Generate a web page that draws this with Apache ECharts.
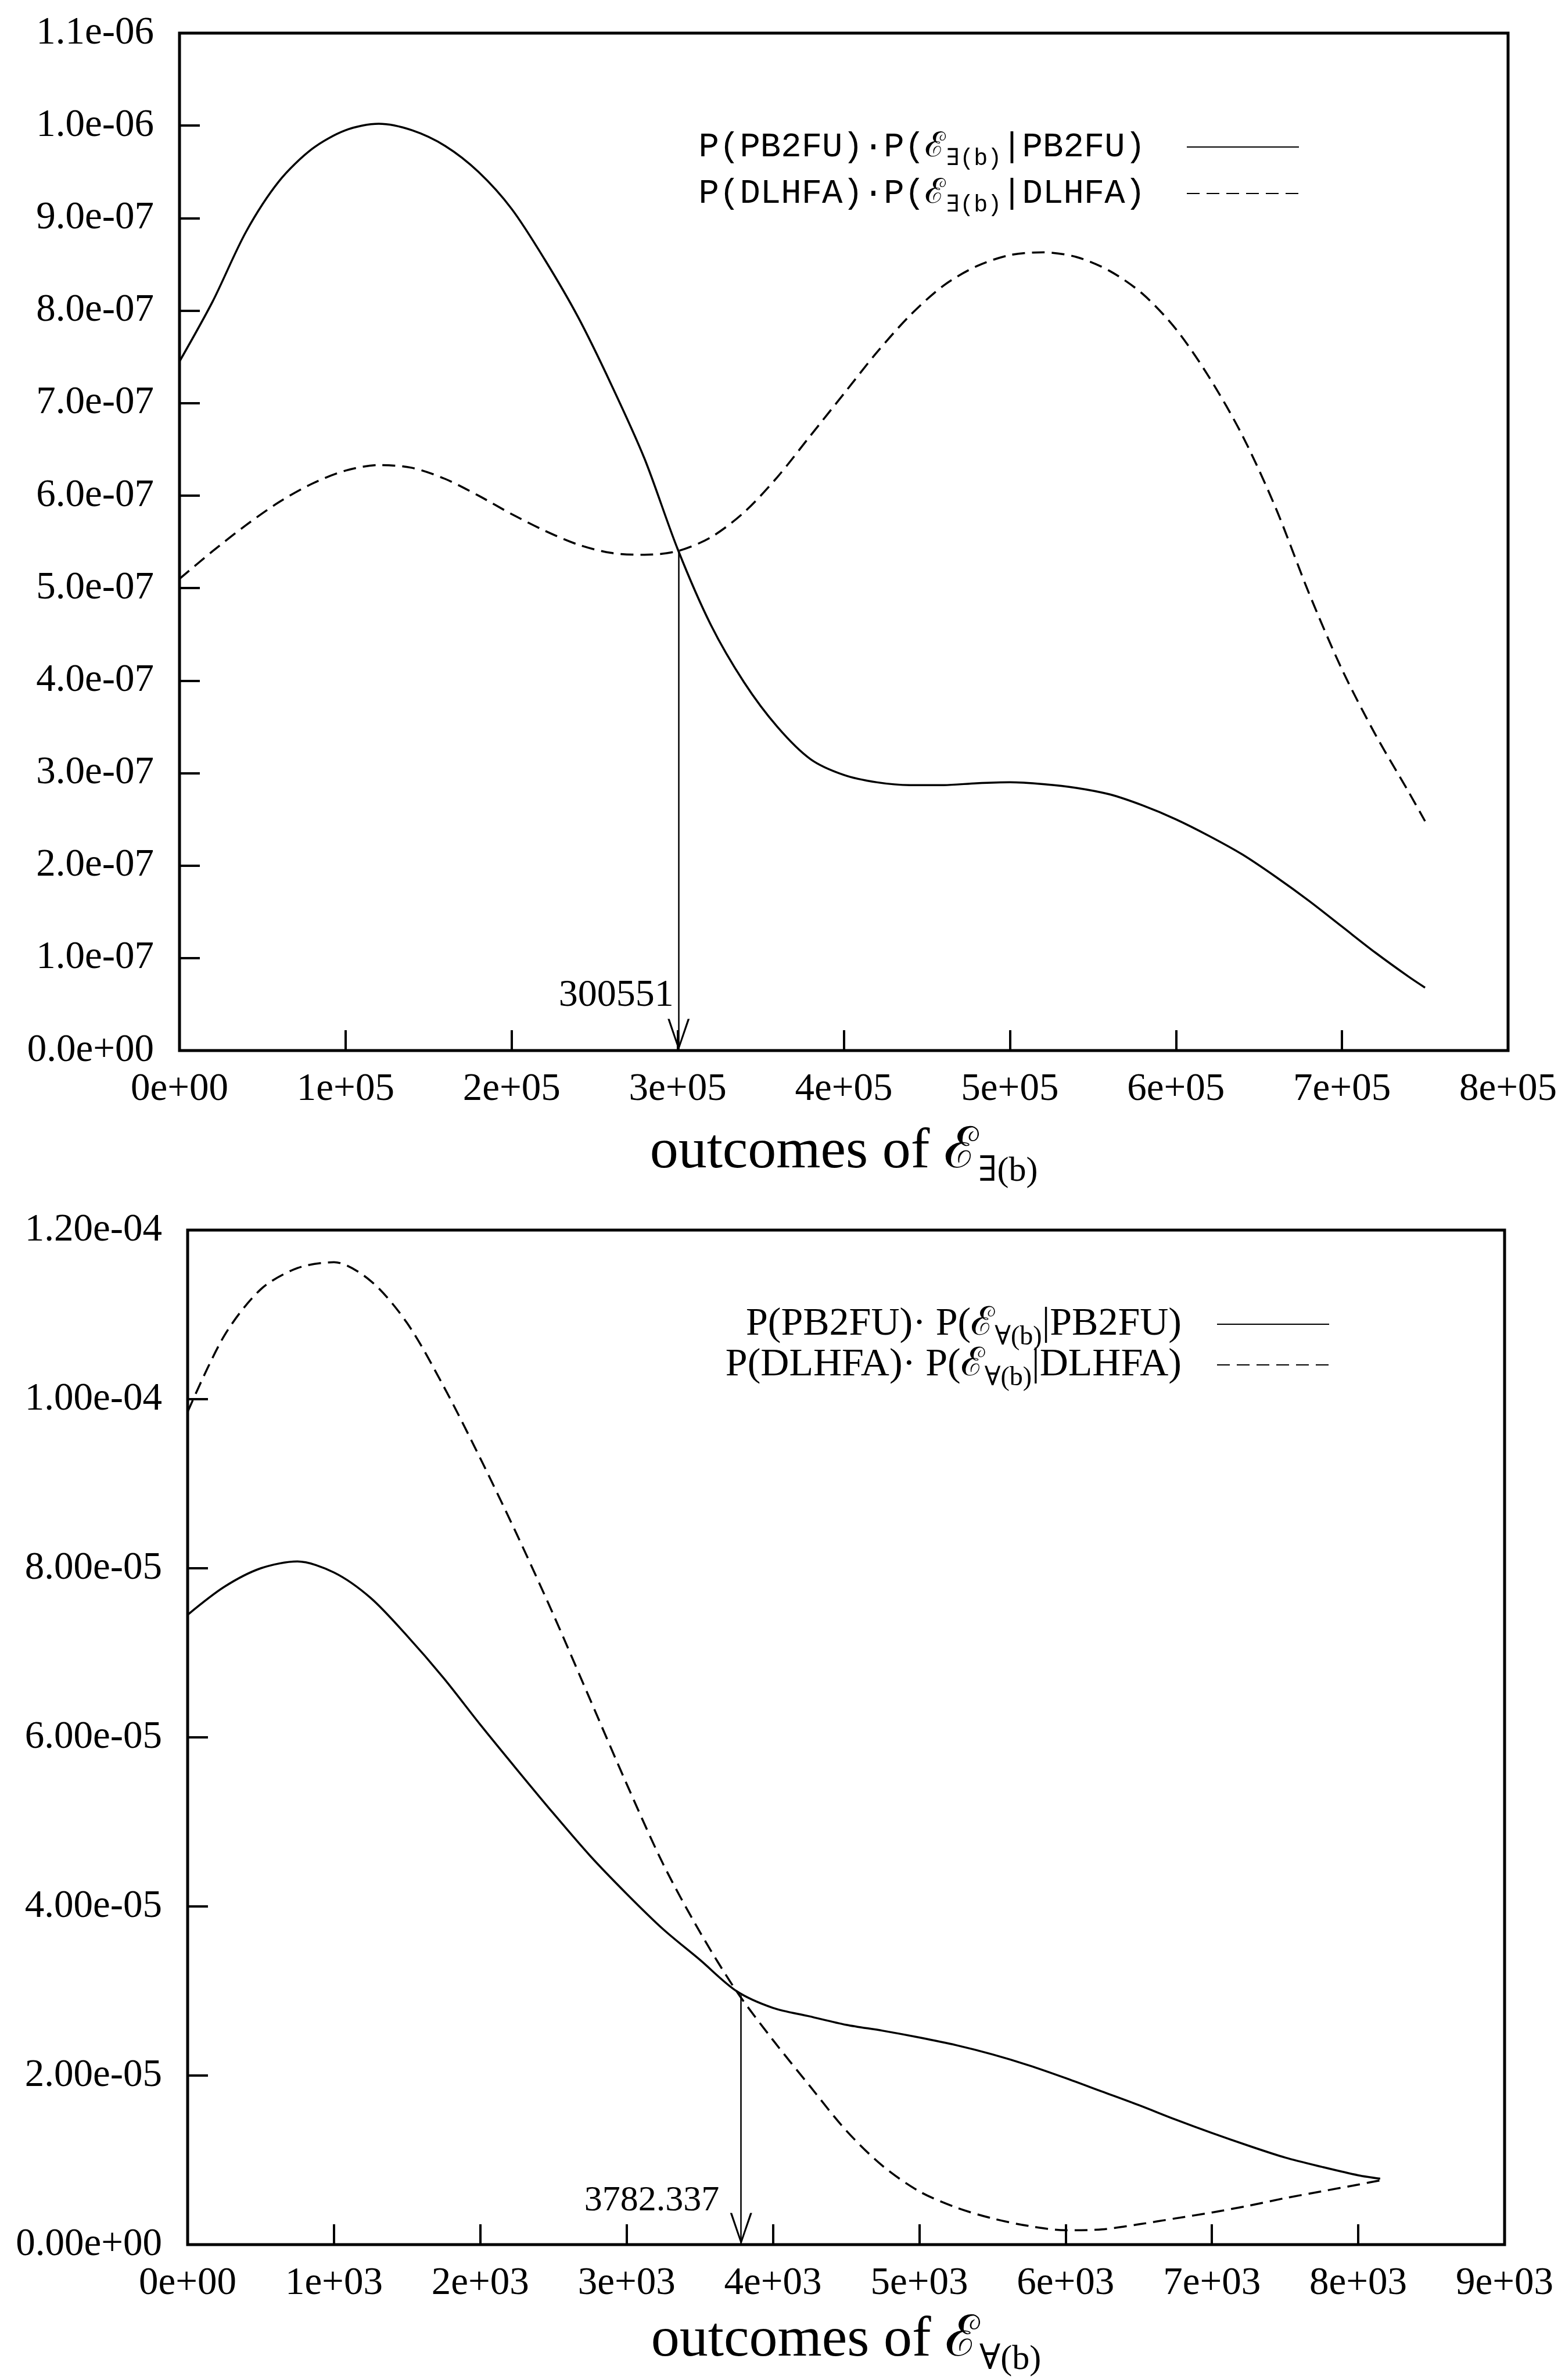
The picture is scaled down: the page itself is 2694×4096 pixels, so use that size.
<!DOCTYPE html>
<html>
<head>
<meta charset="utf-8">
<script src="https://cdn.jsdelivr.net/npm/echarts@6/dist/echarts.min.js"></script>
<style>
html,body{margin:0;padding:0;background:#fff;}
#c{width:2694px;height:4096px;}
</style>
</head>
<body>
<div id="c"></div>
<script>
// ---------------- data: upper chart (outcomes of E_exists(b)) ----------------
const topX = [0,20000,40000,60000,80000,100000,120000,140000,160000,180000,200000,220000,240000,260000,280000,300000,320000,340000,360000,380000,400000,420000,440000,460000,480000,500000,520000,540000,560000,580000,600000,620000,640000,660000,680000,700000,720000,740000,750000];
const topPB2FU = [7.45e-7,8.1e-7,8.85e-7,9.4e-7,9.75e-7,9.95e-7,10.02e-7,9.95e-7,9.78e-7,9.5e-7,9.1e-7,8.55e-7,7.93e-7,7.2e-7,6.4e-7,5.42e-7,4.6e-7,3.98e-7,3.5e-7,3.15e-7,2.98e-7,2.9e-7,2.87e-7,2.87e-7,2.89e-7,2.9e-7,2.88e-7,2.84e-7,2.77e-7,2.65e-7,2.5e-7,2.32e-7,2.12e-7,1.88e-7,1.62e-7,1.34e-7,1.06e-7,0.8e-7,0.68e-7];
const topDLHFA = [5.1e-7,5.4e-7,5.68e-7,5.93e-7,6.13e-7,6.27e-7,6.33e-7,6.3e-7,6.18e-7,6.0e-7,5.8e-7,5.62e-7,5.47e-7,5.38e-7,5.36e-7,5.4e-7,5.55e-7,5.82e-7,6.2e-7,6.65e-7,7.1e-7,7.55e-7,7.95e-7,8.27e-7,8.48e-7,8.6e-7,8.63e-7,8.58e-7,8.43e-7,8.18e-7,7.8e-7,7.28e-7,6.65e-7,5.87e-7,4.95e-7,4.12e-7,3.42e-7,2.8e-7,2.48e-7];
const topXRange = [0, 800000, 100000];
const topYRange = [0, 1.1e-6, 1e-7];
const topCross = [300551, 5.4e-7];
const topNames = ['P(PB2FU)·P(ℰ∃(b)|PB2FU)', 'P(DLHFA)·P(ℰ∃(b)|DLHFA)'];
const topAxisName = ['outcomes of ℰ', '∃(b)'];

// ---------------- data: lower chart (outcomes of E_forall(b)) ----------------
const botX = [0,250,500,750,1000,1250,1500,1750,2000,2250,2500,2750,3000,3250,3500,3750,4000,4250,4500,4750,5000,5250,5500,5750,6000,6250,6500,6750,7000,7250,7500,7750,8000,8150];
const botPB2FU = [7.45e-5,7.78e-5,8.0e-5,8.08e-5,7.95e-5,7.65e-5,7.2e-5,6.7e-5,6.15e-5,5.62e-5,5.1e-5,4.6e-5,4.15e-5,3.73e-5,3.37e-5,3.0e-5,2.8e-5,2.7e-5,2.6e-5,2.53e-5,2.45e-5,2.36e-5,2.25e-5,2.12e-5,1.97e-5,1.81e-5,1.65e-5,1.48e-5,1.32e-5,1.17e-5,1.03e-5,0.92e-5,0.82e-5,0.78e-5];
const botDLHFA = [9.85e-5,10.75e-5,11.3e-5,11.55e-5,11.62e-5,11.4e-5,10.9e-5,10.15e-5,9.3e-5,8.4e-5,7.45e-5,6.45e-5,5.45e-5,4.5e-5,3.7e-5,3.0e-5,2.42e-5,1.88e-5,1.35e-5,0.93e-5,0.63e-5,0.44e-5,0.31e-5,0.22e-5,0.17e-5,0.18e-5,0.24e-5,0.31e-5,0.38e-5,0.46e-5,0.55e-5,0.63e-5,0.71e-5,0.76e-5];
const botXRange = [0, 9000, 1000];
const botYRange = [0, 1.2e-4, 2e-5];
const botCross = [3782.337, 2.95e-5];
const botNames = ['P(PB2FU)· P(ℰ∀(b)|PB2FU)', 'P(DLHFA)· P(ℰ∀(b)|DLHFA)'];
const botAxisName = ['outcomes of ℰ', '∀(b)'];

// ---------------- styling ----------------
const SERIF = "'Liberation Serif','DejaVu Serif',serif";
const MONO = "'Liberation Mono','DejaVu Sans Mono',monospace";
const BLACK = '#000';

function sci(v, d) {
  return Number(v).toExponential(d).replace(/e([+-])(\d)$/, 'e$10$2');
}
function pairs(xs, ys) { return xs.map((x, i) => [x, ys[i]]); }
function legendRich(name) {
  const m = name.match(/^(.*ℰ)(.\(b\))(\|.*)$/);
  return '{m|' + m[1] + '}{s|' + m[2] + '}{e|' + m[3] + '}';
}
const ARROW = 'path://M19,0 L38,55 L34.5,55 L19,9 L3.5,55 L0,55 Z';

function xAxisCfg(grid, range, nameParts, gap) {
  return {
    gridIndex: grid, type: 'value', min: range[0], max: range[1], interval: range[2],
    axisLine: { show: false },
    axisTick: { inside: true, length: 35, lineStyle: { width: 4, color: BLACK } },
    splitLine: { show: false },
    axisLabel: { formatter: v => sci(v, 0), margin: 34, fontSize: 67, fontFamily: SERIF, color: BLACK },
    name: '{a|' + nameParts[0] + '}{b|' + nameParts[1] + '}',
    nameLocation: 'middle', nameGap: gap,
    nameTextStyle: {
      rich: {
        a: { fontSize: 98, fontFamily: SERIF, color: BLACK, lineHeight: 110 },
        b: { fontSize: 60, fontFamily: SERIF, color: BLACK, lineHeight: 40, padding: [66, 0, 0, 0] }
      }
    }
  };
}
function yAxisCfg(grid, range, digits) {
  return {
    gridIndex: grid, type: 'value', min: range[0], max: range[1], interval: range[2],
    axisLine: { show: false },
    axisTick: { inside: true, length: 35, lineStyle: { width: 4, color: BLACK } },
    splitLine: { show: false },
    axisLabel: { formatter: v => sci(v, digits), margin: 44, fontSize: 67, fontFamily: SERIF, color: BLACK }
  };
}
function lineSeries(name, grid, xs, ys, dashed, extra) {
  return Object.assign({
    type: 'line', name: name, xAxisIndex: grid, yAxisIndex: grid,
    data: pairs(xs, ys), smooth: 0.3, symbol: 'none', showSymbol: false,
    lineStyle: { color: BLACK, width: 3.5, type: dashed ? [22, 12] : 'solid' },
    itemStyle: { color: BLACK },
    emphasis: { disabled: true }, silent: true, z: 3
  }, extra || {});
}
function crossMarks(cross, labelFont, dist, offY) {
  return {
    markLine: {
      silent: true, animation: false,
      symbol: ['none', ARROW], symbolSize: 55,
      lineStyle: { color: BLACK, width: 2.5, type: 'solid' },
      label: { show: false }, emphasis: { disabled: true },
      data: [[
        { coord: [cross[0], cross[1]], symbol: 'none' },
        { coord: [cross[0], 0], symbol: ARROW, symbolSize: [38, 55], symbolOffset: [0, 27] }
      ]]
    },
    markPoint: {
      silent: true, animation: false,
      symbol: 'circle', symbolSize: 1, itemStyle: { color: 'rgba(0,0,0,0)' },
      label: {
        show: true, position: 'left', distance: dist, offset: [0, offY],
        formatter: () => String(cross[0]), fontSize: labelFont, fontFamily: SERIF, color: BLACK
      },
      data: [{ coord: [cross[0], 0] }]
    }
  };
}
function legendCfg(names, right, top, font, mainSize, subSize, subShift, lh, gap, textGap) {
  return {
    data: names, orient: 'vertical', right: right, top: top, align: 'right',
    padding: 0, itemGap: gap, itemWidth: 193, itemHeight: 20, selectedMode: false,
    itemStyle: { color: 'rgba(0,0,0,0)', borderColor: 'rgba(0,0,0,0)', borderWidth: 0, opacity: 0 },
    formatter: legendRich,
    textStyle: {
      color: BLACK, fontFamily: font, fontSize: mainSize, lineHeight: lh,
      rich: {
        m: { fontFamily: font, fontSize: mainSize, lineHeight: lh, color: BLACK },
        s: { fontFamily: font, fontSize: subSize, lineHeight: 20, color: BLACK, padding: [subShift, 0, -subShift, 0] },
        e: { fontFamily: font, fontSize: mainSize, lineHeight: lh, color: BLACK, padding: [0, textGap, 0, 0] }
      }
    }
  };
}

const chart = echarts.init(document.getElementById('c'), null, { renderer: 'canvas', width: 2694, height: 4096 });
chart.setOption({
  animation: false,
  backgroundColor: '#fff',
  grid: [
    { left: 309, right: 98, top: 57, height: 1751, show: true, borderColor: BLACK, borderWidth: 5, backgroundColor: 'rgba(0,0,0,0)', containLabel: false, outerBoundsMode: 'none' },
    { left: 323, right: 104, top: 2117, height: 1746, show: true, borderColor: BLACK, borderWidth: 5, backgroundColor: 'rgba(0,0,0,0)', containLabel: false, outerBoundsMode: 'none' }
  ],
  xAxis: [xAxisCfg(0, topXRange, topAxisName, 120), xAxisCfg(1, botXRange, botAxisName, 108)],
  yAxis: [yAxisCfg(0, topYRange, 1), yAxisCfg(1, botYRange, 2)],
  legend: [
    legendCfg(topNames, 457, 222, MONO, 59, 40, 20, 62, 9, 66),
    legendCfg(botNames, 405, 2245, SERIF, 68, 46, 23, 60, -10, 56)
  ],
  series: [
    lineSeries(topNames[0], 0, topX, topPB2FU, false, crossMarks(topCross, 66, 8, -94)),
    lineSeries(topNames[1], 0, topX, topDLHFA, true),
    lineSeries(botNames[0], 1, botX, botPB2FU, false, crossMarks(botCross, 62, 37, -75)),
    lineSeries(botNames[1], 1, botX, botDLHFA, true)
  ]
});
</script>
</body>
</html>
